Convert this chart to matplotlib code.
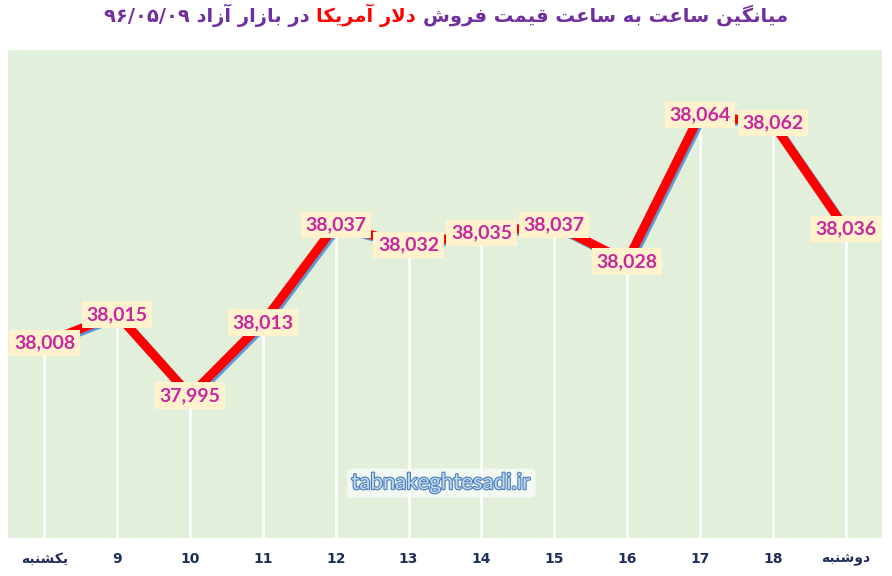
import matplotlib
matplotlib.use("Agg")
import matplotlib.pyplot as plt
import matplotlib.patheffects as pe
from matplotlib.offsetbox import TextArea, HPacker, AnchoredOffsetbox

# data
days = ["یکشنبه", "9", "10", "11", "12", "13", "14", "15", "16", "17", "18", "دوشنبه"]
prices = [38008, 38015, 37995, 38013, 38037, 38032, 38035, 38037, 38028, 38064, 38062, 38036]

# small arabic/persian shaper: (isolated, final, initial, medial)
FORMS = {
    "ا": (0xFE8D, 0xFE8E, None, None),
    "آ": (0xFE81, 0xFE82, None, None),
    "ب": (0xFE8F, 0xFE90, 0xFE91, 0xFE92),
    "ت": (0xFE95, 0xFE96, 0xFE97, 0xFE98),
    "د": (0xFEA9, 0xFEAA, None, None),
    "ر": (0xFEAD, 0xFEAE, None, None),
    "ز": (0xFEAF, 0xFEB0, None, None),
    "س": (0xFEB1, 0xFEB2, 0xFEB3, 0xFEB4),
    "ش": (0xFEB5, 0xFEB6, 0xFEB7, 0xFEB8),
    "ع": (0xFEC9, 0xFECA, 0xFECB, 0xFECC),
    "ف": (0xFED1, 0xFED2, 0xFED3, 0xFED4),
    "ق": (0xFED5, 0xFED6, 0xFED7, 0xFED8),
    "ل": (0xFEDD, 0xFEDE, 0xFEDF, 0xFEE0),
    "م": (0xFEE1, 0xFEE2, 0xFEE3, 0xFEE4),
    "ن": (0xFEE5, 0xFEE6, 0xFEE7, 0xFEE8),
    "ه": (0xFEE9, 0xFEEA, 0xFEEB, 0xFEEC),
    "و": (0xFEED, 0xFEEE, None, None),
    "ی": (0xFBFC, 0xFBFD, 0xFBFE, 0xFBFF),
    "ک": (0xFB8E, 0xFB8F, 0xFB90, 0xFB91),
    "گ": (0xFB92, 0xFB93, 0xFB94, 0xFB95),
}


def shape(word):
    out = []
    chars = list(word)
    i = 0
    while i < len(chars):
        c = chars[i]
        if c not in FORMS:
            out.append(c)
            i += 1
            continue
        prev = chars[i - 1] if i > 0 else None
        joins_prev = prev in FORMS and FORMS[prev][2] is not None
        if c == "ل" and i + 1 < len(chars) and chars[i + 1] == "ا":
            out.append(chr(0xFEFC if joins_prev else 0xFEFB))
            i += 2
            continue
        nxt = chars[i + 1] if i + 1 < len(chars) else None
        f = FORMS[c]
        joins_next = f[2] is not None and nxt in FORMS
        if joins_prev and joins_next:
            out.append(chr(f[3]))
        elif joins_prev:
            out.append(chr(f[1]))
        elif joins_next:
            out.append(chr(f[2]))
        else:
            out.append(chr(f[0]))
        i += 1
    return "".join(out)


def rtl(text):
    return " ".join(shape(w)[::-1] for w in text.split(" ")[::-1])


ticklabels = [rtl(d) if not d.isdigit() else d for d in days]

fig = plt.figure(figsize=(8.92, 5.76), dpi=100)
ax = fig.add_axes([8 / 892, 38 / 576, 874 / 892, 488 / 576])
ax.set_facecolor("#E2EFDA")
for s in ax.spines.values():
    s.set_visible(False)

x = list(range(len(prices)))
ax.set_xlim(-0.5, len(prices) - 0.5)
ax.set_ylim(37960, 38080)

# drop lines
ax.vlines(x, 37960, prices, colors="white", linewidth=2, zorder=1)

ax.plot(x, prices, color="#FF0000", linewidth=6.5, solid_capstyle="butt", zorder=2,
        path_effects=[pe.SimpleLineShadow(offset=(1.5, -1.5), shadow_color="#5B9BD5", alpha=1),
                      pe.Normal()])

for xi, v in zip(x, prices):
    ax.text(xi, v, f"{v:,}", ha="center", va="center", fontsize=14, fontweight="bold",
            family="Lato", color="#C8289E", zorder=4,
            bbox=dict(boxstyle="square,pad=0.24", facecolor="#FFF2CC", edgecolor="none"))

ax.set_xticks(x)
ax.set_xticklabels(ticklabels, fontsize=10, fontweight="bold", color="#1F2F5C",
                   family=["Liberation Sans Narrow", "DejaVu Sans"])
ax.tick_params(axis="x", length=0, pad=10)
ax.set_yticks([])

# watermark
ax.text(5.45, 37973.5, "tabnakeghtesadi.ir", ha="center", va="center", fontsize=16,
        family="Lato", color="#BDD7EE", zorder=3,
        path_effects=[pe.withStroke(linewidth=1.6, foreground="#4A7EBB")],
        bbox=dict(boxstyle="round,pad=0.2", facecolor="white", edgecolor="none", alpha=0.6))

# title in three colour pieces (visual left-to-right order)
purple = "#7030A0"
tprops = dict(fontsize=14, fontweight="bold", family="DejaVu Sans")
part_a = TextArea("۹۶/۰۵/۰۹ " + rtl("در بازار آزاد"), textprops=dict(color=purple, **tprops))
part_b = TextArea(rtl("دلار آمریکا"), textprops=dict(color="#FF0000", **tprops))
part_c = TextArea(rtl("میانگین ساعت به ساعت قیمت فروش"), textprops=dict(color=purple, **tprops))
pack = HPacker(children=[part_a, part_b, part_c], align="baseline", pad=0, sep=5)
title = AnchoredOffsetbox(loc="center", child=pack, frameon=False,
                          bbox_to_anchor=(0.5, 1 - 15 / 576), bbox_transform=fig.transFigure)
fig.add_artist(title)

fig.savefig("out.png", dpi=100)
